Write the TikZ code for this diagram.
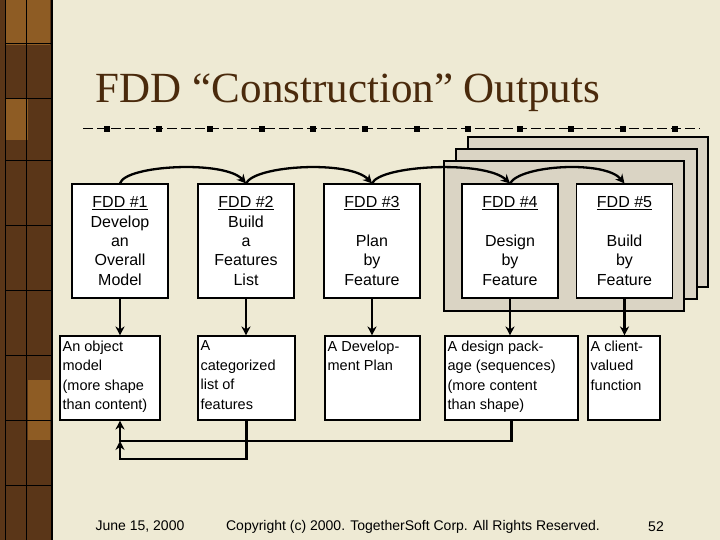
\documentclass[tikz,border=0pt]{standalone}
\usepackage{fontspec}
\setmainfont{Liberation Sans}
\newfontfamily\titlefont{Liberation Serif}
\usetikzlibrary{arrows.meta}
\definecolor{bg}{HTML}{EEEAD4}
\definecolor{stripe}{HTML}{5A3618}
\definecolor{stripelt}{HTML}{8E5C24}
\definecolor{panel}{HTML}{DAD4C4}
\definecolor{titlec}{HTML}{4A2A0C}
\tikzset{
  topbox/.style={draw, fill=white, line width=1.1pt, minimum width=96pt, minimum height=114pt, inner sep=0pt, align=center, font=\fontsize{16}{19.3}\selectfont},
  botbox/.style={draw, fill=white, line width=1.1pt, inner sep=0pt},
  bottxt/.style={anchor=north west, align=left, inner xsep=3pt, inner ysep=5pt, font=\fontsize{14.5}{19.5}\selectfont},
  arr/.style={line width=2.3pt, -{Stealth[length=9pt,width=9pt]}},
  pnl/.style={draw, fill=panel, line width=1.1pt},
  foot/.style={font=\fontsize{14}{16}\selectfont}
}
\begin{document}
\begin{tikzpicture}[x=1pt,y=-1pt]
\useasboundingbox (0,0) rectangle (720,540);
\fill[bg] (0,0) rectangle (720,540);
% left stripe
\fill[stripe] (0,0) rectangle (52,540);
\fill[stripelt] (5,0) rectangle (50,45);
\fill[stripelt] (5,98) rectangle (28,140);
\fill[stripelt] (28,380) rectangle (50,440);
\foreach \x in {5,26} \draw[black, line width=0.6pt] (\x,0) -- (\x,540);
\foreach \y in {43,98,160,225,290,355,420,485} \draw[black, line width=0.6pt] (5,\y) -- (52,\y);
\draw[black, line width=1.5pt] (52,0) -- (52,540);
% title
\node[font=\titlefont\fontsize{43}{48}\selectfont, text=titlec] (title) at (348,93) {FDD “Construction” Outputs};
% dashed rule
\draw[line width=1pt, dash pattern=on 10pt off 4pt] (83,129) -- (700,129);
\foreach \i in {0,...,11} \fill (107+\i*51.6-3,126) rectangle ++(6,6);
% panels
\draw[pnl] (468,137) rectangle (708,287);
\draw[pnl] (456,149) rectangle (697,299);
\draw[pnl] (444,161) rectangle (684,311);
% top boxes
\node[topbox] (t1) at (120,241) {\underline{FDD \#1}\\Develop\\an\\Overall\\Model};
\node[topbox] (t2) at (246,241) {\underline{FDD \#2}\\Build\\a\\Features\\List};
\node[topbox] (t3) at (372,241) {\underline{FDD \#3}\\\mbox{}\\Plan\\by\\Feature};
\node[topbox] (t4) at (510,241) {\underline{FDD \#4}\\\mbox{}\\Design\\by\\Feature};
\node[topbox] (t5) at (624.5,241) {\underline{FDD \#5}\\\mbox{}\\Build\\by\\Feature};
% bottom boxes
\node[botbox, minimum width=100pt, minimum height=84pt] (b1) at (110,378) {};
\node[botbox, minimum width=97pt, minimum height=84pt] (b2) at (246.5,378) {};
\node[botbox, minimum width=95pt, minimum height=84pt] (b3) at (372.5,378) {};
\node[botbox, minimum width=133pt, minimum height=84pt] (b4) at (511.5,378) {};
\node[botbox, minimum width=72pt, minimum height=84pt] (b5) at (624,378) {};
\node[bottxt] (l1) at (b1.north west) {An object\\model\\(more shape\\than content)};
\node[bottxt] (l2) at (b2.north west) {A\\categorized\\list of\\features};
\node[bottxt] (l3) at (b3.north west) {A Develop-\\ment Plan};
\node[bottxt] (l4) at (b4.north west) {A design pack-\\age (sequences)\\(more content\\than shape)};
\node[bottxt] (l5) at (b5.north west) {A client-\\valued\\function};
% curved arrows
\draw[arr] (t1.north) .. controls (125,165) and (225,160) .. (t2.north);
\draw[arr] (t2.north) .. controls (255,165) and (350,160) .. (t3.north);
\draw[arr] (t3.north) .. controls (380,165) and (485,160) .. (t4.north);
\draw[arr] (t4.north) .. controls (520,165) and (605,160) .. (t5.north);
% down arrows
\foreach \i in {1,...,5} \draw[arr] (t\i.south) -- (t\i.south |- b\i.north);
% feedback
\coordinate (j) at (120,441);
\coordinate (k) at (120,459);
\draw[arr] (b4.south) |- (j) -- (t1.south |- b1.south);
\draw[arr] (b2.south) |- (k) -- (j);
% footer
\node[foot] (f1) at (140,527) {June 15, 2000};
\node[foot] (f2) at (413,527) {Copyright (c) 2000. TogetherSoft Corp. All Rights Reserved.};
\node[foot] (f3) at (656,527) {52};
\end{tikzpicture}
\end{document}
